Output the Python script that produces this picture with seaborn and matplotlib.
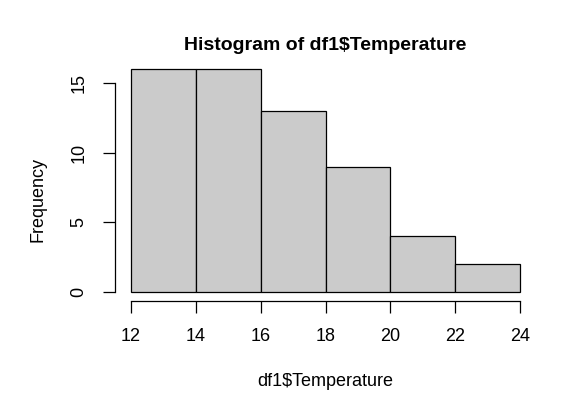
import matplotlib
matplotlib.use('Agg')
import matplotlib.pyplot as plt
import seaborn as sns
import pandas as pd

# histogram bins and counts
bin_edges = [12, 14, 16, 18, 20, 22, 24]
bin_mids = [13, 15, 17, 19, 21, 23]
counts = [16, 16, 13, 9, 4, 2]

df = pd.DataFrame({'Temperature': bin_mids, 'n': counts})

sns.set_style('white')
plt.rcParams['font.family'] = ['Liberation Sans', 'DejaVu Sans']
plt.rcParams['text.color'] = 'black'

fig = plt.figure(figsize=(5.85, 4.0), dpi=100)
ax = fig.add_axes([0.1973, 0.2475, 0.7183, 0.6025])

sns.histplot(data=df, x='Temperature', weights='n', bins=bin_edges,
             color='#CBCBCB', edgecolor='black', linewidth=0.9, alpha=1, ax=ax)

# R style axes: 4% padding, spines only across tick range
ax.set_xlim(11.52, 24.48)
ax.set_ylim(-0.64, 16.64)
ax.set_xticks([12, 14, 16, 18, 20, 22, 24])
ax.set_yticks([0, 5, 10, 15])
ax.spines['top'].set_visible(False)
ax.spines['right'].set_visible(False)
ax.spines['bottom'].set_bounds(12, 24)
ax.spines['left'].set_bounds(0, 15)
for s in ['bottom', 'left']:
    ax.spines[s].set_color('black')
    ax.spines[s].set_linewidth(0.9)
ax.tick_params(axis='both', direction='out', length=8.6, width=0.9, colors='black',
               labelsize=13, bottom=True, left=True)
ax.tick_params(axis='x', pad=11)
ax.tick_params(axis='y', pad=11.5)
for lab in ax.get_yticklabels():
    lab.set_rotation(90)
    lab.set_va('center')

ax.set_xlabel('')
ax.set_ylabel('')
fig.text(0.5564, 0.885, 'Histogram of df1$Temperature', ha='center', va='center',
         fontsize=14, fontweight='bold')
fig.text(0.5564, 0.0475, 'df1$Temperature', ha='center', va='center', fontsize=13)
fig.text(0.065, 0.5, 'Frequency', ha='center', va='center', rotation=90, fontsize=13)

fig.savefig('out.png', dpi=100)
